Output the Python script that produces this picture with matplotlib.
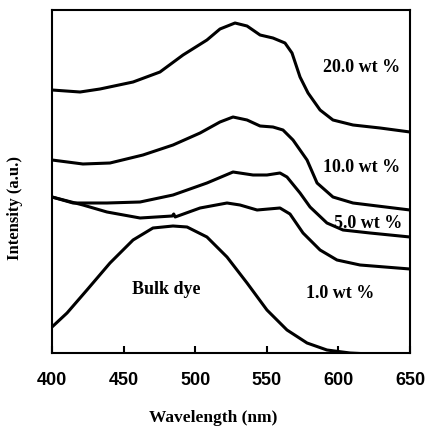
import matplotlib
matplotlib.use("Agg")
import matplotlib.pyplot as plt

# emission spectra (intensity in arbitrary units)
wl_20 = [400, 419.6, 433.5, 456.6, 475.4, 491.5, 508.2, 517.3, 527.8, 536.2,
         545.3, 554.3, 562.7, 567.6, 573.2, 578.8, 587.2, 596.2, 610.2, 629.1, 650]
int_20 = [263, 261, 264, 271, 281, 298, 313, 324, 330, 327,
          318, 315, 310, 300, 276, 260, 243, 233, 228, 225, 221]

wl_10 = [400, 421.6, 440.5, 463.5, 484.5, 503.4, 517.3, 526.4, 536.2, 545.3,
         554.3, 561.3, 568.3, 578.1, 585.1, 596.2, 610.2, 650]
int_10 = [193, 189, 190, 198, 208, 220, 231, 236, 233, 227,
          226, 223, 213, 193, 170, 156, 150, 143]

wl_5 = [400, 414.7, 438.4, 461.5, 484.5, 508.2, 526.4, 540.4, 550.1, 559.2,
        564.1, 573.2, 580.2, 592.0, 603.2, 622.1, 650]
int_5 = [156, 150, 150, 151, 158, 170, 181, 178, 178, 180,
         176, 160, 146, 130, 123, 120, 116]

wl_1 = [400, 421.6, 438.4, 461.5, 484.0, 485.0, 486.0, 503.4, 522.2, 531.3,
        543.2, 559.2, 566.2, 575.3, 587.2, 599.0, 615.1, 632.5, 650]
int_1 = [156, 148, 141, 135, 137, 139, 136, 145, 150, 148,
         143, 145, 139, 120, 103, 93, 88, 86, 84]

wl_bulk = [400, 410.5, 424.4, 440.5, 456.6, 470.5, 484.5, 494.3, 508.2, 522.2,
           536.2, 550.1, 564.1, 578.1, 592.0, 608.1, 650]
int_bulk = [26, 40, 63, 90, 113, 125, 127, 126, 116, 96,
            70, 43, 23, 10, 3, 0, -3]

series = [
    (wl_20, int_20),
    (wl_10, int_10),
    (wl_5, int_5),
    (wl_1, int_1),
    (wl_bulk, int_bulk),
]

labels = ["20.0 wt %", "10.0 wt %", "5.0 wt %", "1.0 wt %", "Bulk dye"]
label_x = [616, 616, 620.5, 601, 480]
label_y = [285, 186, 130, 60, 63]

xticks = [400, 450, 500, 550, 600, 650]

serif = {"family": "Liberation Serif", "weight": "bold"}

fig = plt.figure(figsize=(4.25, 4.29), dpi=100)
ax = fig.add_axes([52 / 425, 1 - 353 / 429, 358 / 425, 343 / 429])

for wl, inten in series:
    ax.plot(wl, inten, color="black", linewidth=2.2, solid_joinstyle="round")

for text, x, y in zip(labels, label_x, label_y):
    ax.text(x, y, text, ha="center", va="center", fontsize=13, **serif)

ax.set_xlim(400, 650)
ax.set_ylim(0, 343)
ax.set_yticks([])
ax.set_xticks(xticks)
ax.tick_params(axis="x", direction="in", length=5, width=1.5, pad=14,
               labelsize=13)
for lab in ax.get_xticklabels():
    lab.set_fontfamily("Liberation Sans")
    lab.set_fontweight("bold")
for spine in ax.spines.values():
    spine.set_linewidth(1.5)

fig.text(213 / 425, 1 - 418 / 429, "Wavelength (nm)", ha="center",
         va="center", fontsize=12.5, **serif)
fig.text(15 / 425, 1 - 208 / 429, "Intensity (a.u.)", ha="center",
         va="center", rotation=90, fontsize=12, **serif)

fig.savefig("out.png", dpi=100)
